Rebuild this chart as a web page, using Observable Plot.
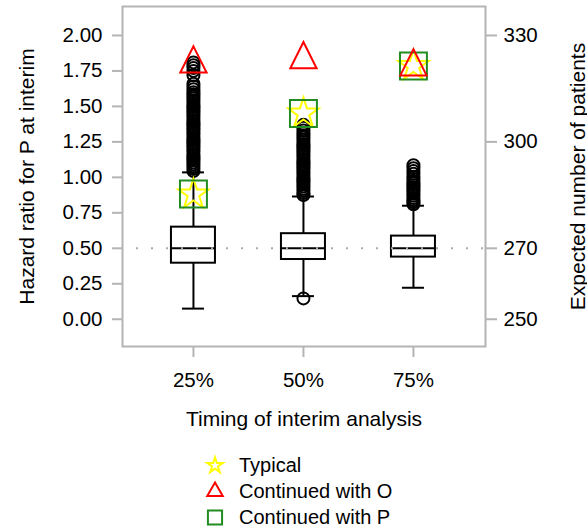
<!DOCTYPE html>
<html><head><meta charset="utf-8">
<script src="https://cdn.jsdelivr.net/npm/d3@7"></script>
<script src="https://cdn.jsdelivr.net/npm/@observablehq/plot@0.6"></script>
<style>
body{margin:0;background:#fff;font-family:"Liberation Sans",Arial,Helvetica,sans-serif;}
#chart{position:relative;width:587px;height:528px;overflow:hidden;}
#legend{position:absolute;left:0;top:452px;}
.row{display:flex;align-items:center;height:26px;font-size:20px;color:#000;white-space:nowrap;}
.row svg{margin-left:203px;margin-right:12px;flex:none;}
</style></head><body><div id="chart"></div>
<script>
// ---- data ----
const categories = ["25%", "50%", "75%"];
const positions = [1, 2, 3];
const q1 = [0.395, 0.421, 0.438];
const median = [0.50, 0.50, 0.50];
const q3 = [0.649, 0.603, 0.586];
const whiskerLow = [0.075, 0.163, 0.222];
const whiskerHigh = [1.035, 0.865, 0.800];
const outliers25 = [1.045,1.06,1.075,1.09,1.105,1.12,1.135,1.15,1.165,1.18,1.195,1.21,1.225,1.24,1.255,1.27,1.285,1.30,1.315,1.33,1.345,1.36,1.375,1.39,1.405,1.42,1.435,1.45,1.465,1.48,1.495,1.51,1.525,1.54,1.555,1.57,1.585,1.60,1.62,1.64,1.66,1.72,1.75,1.77,1.79,1.81];
const outliers50 = [0.147,0.875,0.89,0.905,0.92,0.935,0.95,0.965,0.98,0.995,1.01,1.025,1.04,1.055,1.07,1.085,1.10,1.115,1.13,1.145,1.16,1.175,1.19,1.205,1.22,1.235,1.25,1.265,1.28,1.295,1.31,1.33,1.35,1.37];
const outliers75 = [0.81,0.825,0.84,0.855,0.87,0.885,0.90,0.915,0.93,0.945,0.96,0.975,0.99,1.005,1.025,1.045,1.065,1.085];
const typical = [0.88, 1.45, 1.785];
const continuedO = [1.80, 1.83, 1.78];
const continuedP = [0.883, 1.45, 1.785];
const leftTicks = [0, 0.25, 0.5, 0.75, 1, 1.25, 1.5, 1.75, 2];
const rightTicks = [250, 270, 300, 330];
const referenceLine = [0.5];
const labels = {
  x: "Timing of interim analysis",
  yLeft: "Hazard ratio for P at interim",
  yRight: "Expected number of patients",
  legend: ["Typical", "Continued with O", "Continued with P"]
};

// ---- derived tables ----
const boxes = positions.map((p, i) => ({pos: p, q1: q1[i], med: median[i], q3: q3[i], lo: whiskerLow[i], hi: whiskerHigh[i]}));
const outliers = [outliers25, outliers50, outliers75].flatMap((arr, i) => arr.map(v => ({pos: positions[i], v})));
const mk = arr => arr.map((v, i) => ({pos: positions[i], v}));
// right axis: expected patients = 250 + 40 * hazard ratio
const toHR = n => (n - 250) / 40;

const gray = "#b4b4b4";
const yellow = "#ffff00", red = "#ff0000", green = "#228B22";

const triangleSym = {
  draw(ctx, size) {
    const r = Math.sqrt(size / Math.PI);
    const h = r * 2.5, w = r * 2.5;
    ctx.moveTo(0, -2 * h / 3);
    ctx.lineTo(w / 2, h / 3);
    ctx.lineTo(-w / 2, h / 3);
    ctx.closePath();
  }
};

const H = 440;
const chart = Plot.plot({
  width: 587,
  height: H,
  marginLeft: 122,
  marginRight: 102,
  marginTop: 6,
  marginBottom: H - 346,
  style: {fontFamily: "'Liberation Sans', Arial, Helvetica, sans-serif", fontSize: "20.5px", background: "white", color: "black"},
  x: {type: "linear", domain: [0.355, 3.655]},
  y: {domain: [-0.192, 2.204]},
  marks: [
    Plot.axisY({ticks: leftTicks, tickFormat: d3.format(".2f"), tickSize: 10, tickPadding: 10, stroke: gray, strokeWidth: 2, label: null}),
    Plot.axisY({anchor: "right", ticks: rightTicks.map(toHR), tickFormat: d => String(Math.round(250 + 40 * d)), tickSize: 11, tickPadding: 7, stroke: gray, strokeWidth: 2, label: null}),
    Plot.axisX({ticks: positions, tickFormat: d => categories[positions.indexOf(d)], tickSize: 11, tickPadding: 15, stroke: gray, strokeWidth: 2, label: null}),
    // whiskers
    Plot.ruleX(boxes, {x: "pos", y1: "q3", y2: "hi", stroke: "black", strokeWidth: 2}),
    Plot.ruleX(boxes, {x: "pos", y1: "lo", y2: "q1", stroke: "black", strokeWidth: 2}),
    Plot.ruleY(boxes, {y: "hi", x1: d => d.pos - 0.1, x2: d => d.pos + 0.1, stroke: "black", strokeWidth: 2}),
    Plot.ruleY(boxes, {y: "lo", x1: d => d.pos - 0.1, x2: d => d.pos + 0.1, stroke: "black", strokeWidth: 2}),
    // outliers
    Plot.dot(outliers, {x: "pos", y: "v", r: 6, stroke: "black", strokeWidth: 2, fill: "none"}),
    // boxes
    Plot.rect(boxes, {x1: d => d.pos - 0.2, x2: d => d.pos + 0.2, y1: "q1", y2: "q3", fill: "white", stroke: "black", strokeWidth: 2}),
    Plot.ruleY(boxes, {y: "med", x1: d => d.pos - 0.2, x2: d => d.pos + 0.2, stroke: "black", strokeWidth: 2}),
    // dotted reference line
    Plot.ruleY(referenceLine, {stroke: "#aaaaaa", strokeWidth: 2, strokeDasharray: "2 13", strokeDashoffset: 1}),
    // markers
    Plot.dot(mk(typical), {x: "pos", y: "v", symbol: d3.symbolStar, r: 9.5, stroke: yellow, strokeWidth: 2, fill: "none"}),
    Plot.dot(mk(continuedP), {x: "pos", y: "v", symbol: d3.symbolSquare, r: 15.2, stroke: green, strokeWidth: 2, fill: "none"}),
    Plot.dot(mk(continuedO), {x: "pos", y: "v", symbol: triangleSym, r: 10.5, stroke: red, strokeWidth: 2, fill: "none"}),
    Plot.frame({stroke: gray, strokeWidth: 2}),
    // axis titles
    Plot.text([labels.x], {frameAnchor: "bottom", dy: 79, lineAnchor: "bottom", fontSize: 21}),
    Plot.text([labels.yLeft], {frameAnchor: "left", rotate: -90, textAnchor: "middle", lineAnchor: "bottom", dx: -89, fontSize: 21}),
    Plot.text([labels.yRight], {frameAnchor: "right", rotate: -90, textAnchor: "middle", lineAnchor: "bottom", dx: 99, fontSize: 21})
  ]
});
const container = document.getElementById("chart");
container.appendChild(chart);

// legend below the chart
const legendItems = [
  {label: labels.legend[0], type: d3.symbolStar, size: 75, color: yellow},
  {label: labels.legend[1], type: d3.symbolTriangle, size: 104, color: red},
  {label: labels.legend[2], type: d3.symbolSquare, size: 200, color: green}
];
const legend = d3.select(container).append("div").attr("id", "legend");
legendItems.forEach(it => {
  const row = legend.append("div").attr("class", "row");
  const svg = row.append("svg").attr("width", 24).attr("height", 24);
  svg.append("path")
    .attr("transform", "translate(12,12.5)")
    .attr("d", d3.symbol(it.type, it.size)())
    .attr("fill", "none").attr("stroke", it.color).attr("stroke-width", 2);
  row.append("span").text(it.label);
});
</script>
</body></html>
